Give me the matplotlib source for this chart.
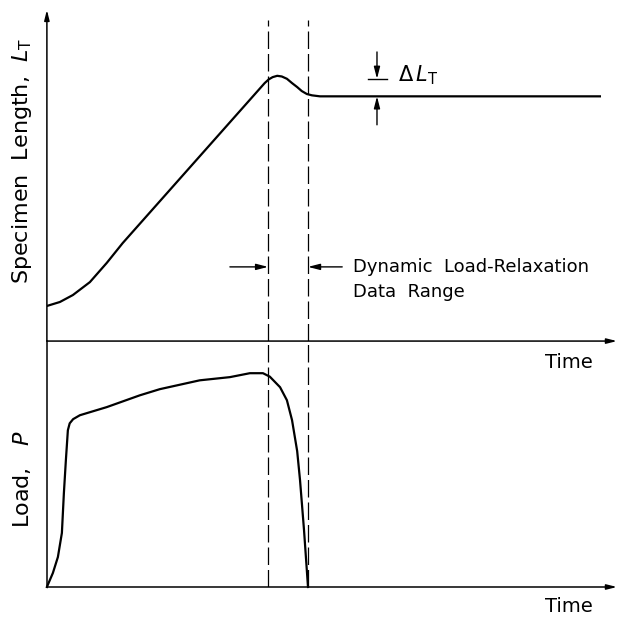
import numpy as np
import matplotlib.pyplot as plt

# Schematic data (arbitrary units): time 0..100
t_dyn_start = 38.8
t_dyn_end = 45.8

# specimen length vs time
time_len = [0, 2.28, 4.56, 7.54, 10.5, 13.3, 38.2, 38.9, 39.6,
            40.4, 41.2, 42.1, 43.0, 43.9, 44.7, 45.6, 46.5, 47.9, 97.0]
length = [10.6, 11.8, 13.9, 17.8, 23.6, 29.6, 77.9, 79.0, 79.7,
          80.1, 79.9, 79.2, 77.9, 76.7, 75.5, 74.6, 74.2, 73.9, 73.9]

# load vs time
time_load = [0, 1.05, 1.93, 2.63, 2.98, 3.33, 3.68, 4.0, 4.6, 5.79, 10.5, 16.3, 19.8, 26.8,
             32.1, 35.6, 37.9, 39.1, 40.9, 42.1, 43.0, 43.9, 44.4, 45.1, 45.8]
load = [0, 5.7, 12.2, 22.0, 38.2, 51.6, 63.8, 66.6, 68.3, 69.9, 73.2, 78.0, 80.5, 84.1,
        85.4, 87.0, 87.0, 85.6, 81.3, 76.0, 67.9, 55.3, 43.5, 23.2, 0]

plt.rcParams['font.family'] = ['DejaVu Sans']
plt.rcParams['mathtext.fontset'] = 'dejavusans'

fig = plt.figure(figsize=(6.17, 6.19), dpi=100)
ax1 = fig.add_axes([0.076, 0.449, 0.924, 0.535])
ax2 = fig.add_axes([0.076, 0.0517, 0.924, 0.397])

for ax in (ax1, ax2):
    ax.set_xlim(0, 100)
    ax.set_ylim(0, 100)
    ax.set_xticks([])
    ax.set_yticks([])
    ax.patch.set_visible(False)
    for s in ax.spines.values():
        s.set_visible(False)

arrow = dict(arrowstyle='-|>,head_length=0.6,head_width=0.15', color='black', lw=1.1,
             shrinkA=0, shrinkB=0)

# axes lines with arrows
ax1.annotate('', xy=(0, 1), xytext=(0, 0), xycoords='axes fraction', arrowprops=arrow)
ax1.annotate('', xy=(1, 0), xytext=(0, 0), xycoords='axes fraction', arrowprops=arrow)
ax2.annotate('', xy=(1, 0), xytext=(0, 0), xycoords='axes fraction', arrowprops=arrow)
ax2.plot([0, 0], [0, 1], transform=ax2.transAxes, color='black', lw=1.1, clip_on=False)

# curves
ax1.plot(time_len, length, color='black', lw=1.6)
ax2.plot(time_load, load, color='black', lw=1.6, clip_on=False)

# dashed bounds of dynamic load-relaxation range
for tx in (t_dyn_start, t_dyn_end):
    ax1.axvline(tx, ymax=0.97, color='black', lw=0.9, ls=(0, (14, 4)))
    ax2.axvline(tx, color='black', lw=0.9, ls=(0, (14, 4)))

# range arrows and text
small = dict(arrowstyle='-|>,head_length=0.7,head_width=0.18', color='black', lw=1.0,
             shrinkA=0, shrinkB=0)
ax1.annotate('', xy=(t_dyn_start, 22.4), xytext=(32.1, 22.4), arrowprops=small)
ax1.annotate('', xy=(t_dyn_end, 22.4), xytext=(51.8, 22.4), arrowprops=small)
ax1.text(53.7, 22.4, 'Dynamic  Load-Relaxation', fontsize=13, va='center', ha='left')
ax1.text(53.7, 14.8, 'Data  Range', fontsize=13, va='center', ha='left')

# delta L_T marker
ax1.annotate('', xy=(57.9, 79.2), xytext=(57.9, 87.3), arrowprops=small)
ax1.plot([56.3, 59.6], [79.2, 79.2], color='black', lw=1.0)
ax1.annotate('', xy=(57.9, 73.9), xytext=(57.9, 65.3), arrowprops=small)
ax1.text(61.6, 80.4, r'$\Delta\,L_\mathrm{T}$', fontsize=15, va='center', ha='left')

# axis titles
ax1.text(95.8, -6.6, 'Time', fontsize=14, va='center', ha='right')
ax2.text(95.8, -8.1, 'Time', fontsize=14, va='center', ha='right')
fig.text(22 / 617, 1 - 161 / 619, r'Specimen  Length,  $L_\mathrm{T}$', fontsize=16,
         rotation=90, ha='center', va='center')
fig.text(22 / 617, 1 - 479 / 619, r'Load,   $P$', fontsize=16,
         rotation=90, ha='center', va='center')

fig.savefig('out.png', dpi=100)
